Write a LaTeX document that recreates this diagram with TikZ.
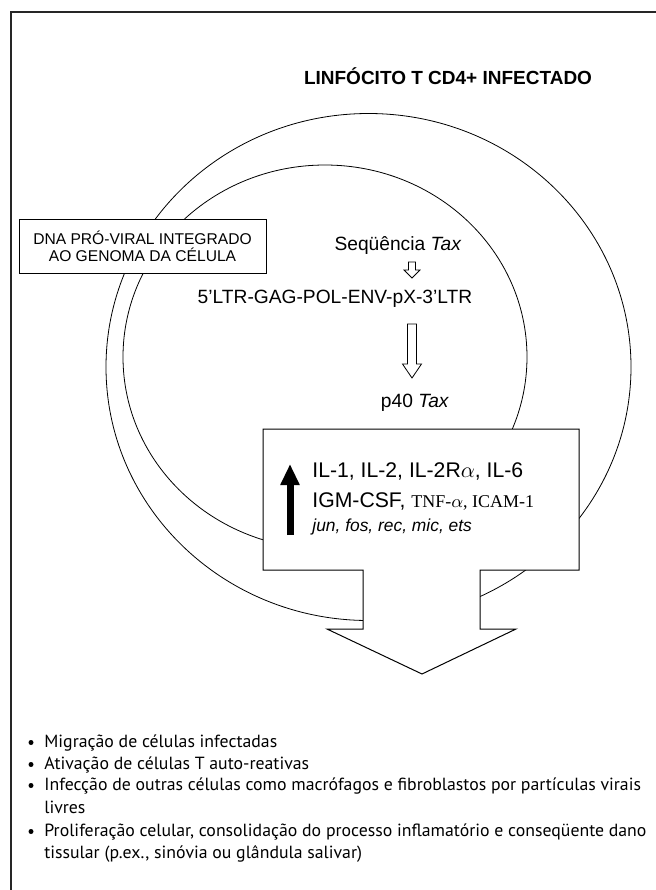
\documentclass[tikz,border=0pt]{standalone}
\usepackage{fontspec}
\setmainfont{Liberation Sans}
\newfontfamily\timesfont{Liberation Serif}
\newfontfamily\listfont[FakeStretch=1.01]{PT Sans}
\usetikzlibrary{calc,arrows.meta}
\def\hollowarrow(#1)(#2)[#3:#4:#5]{\draw[line width=0.4pt, fill=white] ($(#1)+(-#3,0)$) -- ($(#2)+(-#3,-#5)$) -- ($(#2)+(-#4,-#5)$) -- (#2) -- ($(#2)+(#4,-#5)$) -- ($(#2)+(#3,-#5)$) -- ($(#1)+(#3,0)$) -- cycle;}
\tikzset{
	frameline/.style={line width=0.6pt, black!85},
	ringline/.style={line width=0.4pt},
	titletext/.style={anchor=base, inner sep=0pt, font=\fontsize{9.5}{11}\selectfont\bfseries},
	wordtext/.style={anchor=base, inner sep=0pt, font=\fontsize{9.6}{11}\selectfont},
	dnabox/.style={draw, fill=white, line width=0.5pt, align=center, minimum width=123.5pt, minimum height=27pt, inner sep=0pt, font=\fontsize{7.8}{8.6}\selectfont},
	boxtext/.style={anchor=base west, inner sep=0pt, font=\fontsize{10.6}{12}\selectfont},
	itemtext/.style={anchor=base west, inner sep=0pt, font=\listfont\fontsize{8.8}{11}\selectfont},
	bulletdot/.style={circle, fill=black, inner sep=0pt, minimum size=2.5pt}
}
\begin{document}
\begin{tikzpicture}[x=0.5pt, y=-0.5pt]
			%%%%% START %%%%%
			\useasboundingbox (0,0) rectangle (656,890);
			\draw[frameline] (656,12) -- (11,12) -- (11,890);
			
			\node[titletext] (title) at (448,84.5) {LINFÓCITO T CD4+ INFECTADO};
			
			% cell rings
			\draw[ringline] (368.5,367) ellipse [x radius=262.5, y radius=253.5];
			\draw[ringline] (325,357) ellipse [x radius=202, y radius=192];
			
			\node[dnabox] (dna) at (142.5,246) {DNA PRÓ-VIRAL INTEGRADO\\AO GENOMA DA CÉLULA};
			
			\node[wordtext] (seq) at (398,250) {Seqüência \textit{Tax}};
			\node[wordtext] (ltr) at (335,303.5) {5’LTR-GAG-POL-ENV-pX-3’LTR};
			\node[wordtext] (ptax) at (415,407) {p40 \textit{Tax}};
			
			\coordinate (seqout) at (412,262);
			\coordinate (ltrin) at (412,278);
			\coordinate (ltrout) at (412,324);
			\coordinate (ptaxin) at (412,378);
			\hollowarrow(seqout)(ltrin)[3.5:8:8];
			\hollowarrow(ltrout)(ptaxin)[4.5:9.5:14];
			
			% box and big arrow
			\draw[line width=0.5pt, fill=white] (263,429) -- (579,429) -- (579,570) -- (480,570) -- (480,629) -- (516,629) -- (422,674) -- (327,629) -- (363,629) -- (363,570) -- (263,570) -- cycle;
			
			\coordinate (upbase) at (290,535);
			\coordinate (uptip) at (290,464);
			\draw[line width=3.5pt, -{Triangle[length=10.5pt, width=9pt]}] (upbase) -- (uptip);
			
			\node[boxtext] (ils) at (312,477.5) {IL-1, IL-2, IL-2R$\alpha$, IL-6};
			\node[boxtext] (gmcsf) at (312,507.5) {IGM-CSF, {\timesfont\fontsize{9}{12}\selectfont TNF-$\alpha$, ICAM-1}};
			\node[boxtext, font=\fontsize{8.7}{10}\selectfont\itshape] (genes) at (312,531) {jun, fos, rec, mic, ets};
			
			% consequences
			\node[bulletdot] (b1) at (31,742.5) {};
			\node[itemtext] (migra) at (44,747) {Migração de células infectadas};
			\node[bulletdot] (b2) at (31,764.5) {};
			\node[itemtext] (ativa) at (44,769) {Ativação de células T auto-reativas};
			\node[bulletdot] (b3) at (31,785.5) {};
			\node[itemtext] (infec) at (44,790) {Infecção de outras células como macrófagos e fibroblastos por partículas virais};
			\node[itemtext] (livres) at (44,813) {livres};
			\node[bulletdot] (b4) at (31,831.5) {};
			\node[itemtext] (prolif) at (44,836) {Proliferação celular, consolidação do processo inflamatório e conseqüente dano};
			\node[itemtext] (tissu) at (44,858) {tissular (p.ex., sinóvia ou glândula salivar)};
			%%%%% END %%%%%
\end{tikzpicture}
\end{document}
